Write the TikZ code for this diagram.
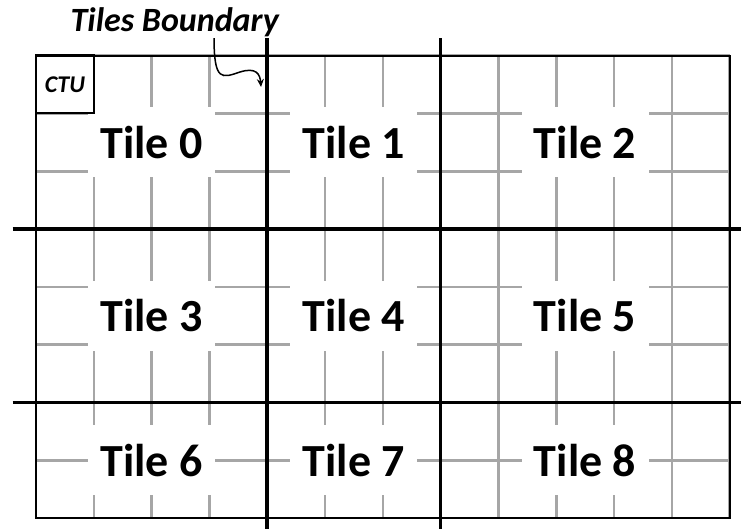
\documentclass[tikz,border=0pt]{standalone}
\usepackage{fontspec}
\setmainfont{Carlito}
\usetikzlibrary{positioning, calc, arrows.meta}

\definecolor{gridgray}{RGB}{166,166,166}

\begin{document}
\begin{tikzpicture}[x=57.8pt, y=57.8pt, >=Stealth,
    tilelabel/.style={fill=white, inner sep=0pt, minimum width=127pt, minimum height=70pt,
                      font=\fontsize{46}{55}\selectfont\bfseries},
    ctubox/.style={draw, line width=2.2pt, minimum size=57.8pt, inner sep=0pt,
                   font=\fontsize{24}{29}\selectfont\bfseries\itshape},
    tileedge/.style={line width=3.6pt},
    gridline/.style={gridgray, line width=2.6pt}]

    \useasboundingbox (-0.623,-0.19) rectangle (12.197,8.962);

    % ================= CTU grid =================
    \draw[gridline, step=57.8pt] (0,0) grid (12,8);

    % Tile labels (white boxes hide the grid)
    \node[tilelabel] (t0) at (2,6.5)   {Tile 0};
    \node[tilelabel] (t1) at (5.5,6.5) {Tile 1};
    \node[tilelabel] (t2) at (9.5,6.5) {Tile 2};
    \node[tilelabel] (t3) at (2,3.5)   {Tile 3};
    \node[tilelabel] (t4) at (5.5,3.5) {Tile 4};
    \node[tilelabel] (t5) at (9.5,3.5) {Tile 5};
    \node[tilelabel] (t6) at (2,1)     {Tile 6};
    \node[tilelabel] (t7) at (5.5,1)   {Tile 7};
    \node[tilelabel] (t8) at (9.5,1)   {Tile 8};

    % Picture border
    \draw[line width=2pt] (0,0) rectangle (12,8);

    % ================= Tile boundaries =================
    \draw[tileedge] (4,-0.19) -- (4,8.30);
    \draw[tileedge] (7,-0.19) -- (7,8.30);
    \draw[tileedge] (-0.403,5) -- (12.197,5);
    \draw[tileedge] (-0.403,2) -- (12.197,2);

    % One CTU
    \node[ctubox] (ctu) at (0.5,7.5) {CTU};

    % ================= Boundary label =================
    \node[anchor=base, font=\fontsize{34}{41}\selectfont\bfseries\itshape] (bnd) at (2.40,8.41) {Tiles Boundary};
    \coordinate (bndfrom) at (3.080,8.304);
    \coordinate (bndtip) at (3.893,7.457);
    \draw[->, line width=1.5pt, >={Stealth[length=8pt,width=7pt]}]
        (bndfrom) .. controls (3.080,7.543) and (3.218,7.612) .. (3.529,7.716)
                  .. controls (3.806,7.803) and (3.875,7.682) .. (bndtip);

\end{tikzpicture}
\end{document}
